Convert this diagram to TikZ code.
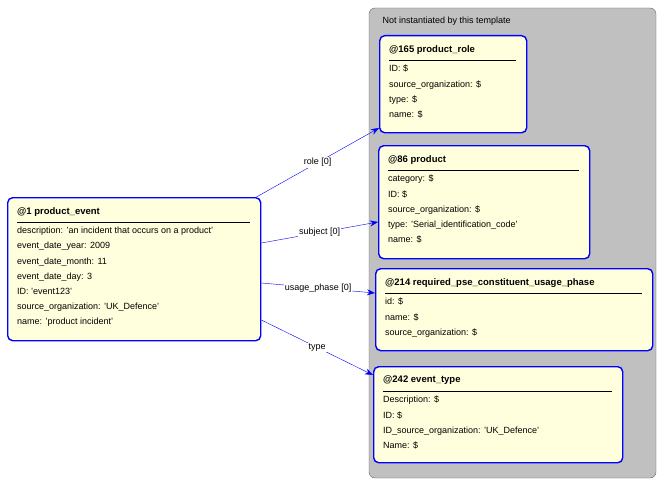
\documentclass[tikz,border=0pt]{standalone}
\usepackage{fontspec}
\setmainfont{Liberation Sans}
\usetikzlibrary{arrows.meta, positioning, calc}

\definecolor{boxfill}{HTML}{FFFFDD}
\definecolor{groupfill}{HTML}{C0C0C0}

\tikzset{
  entity/.style={draw=blue, line width=1.4pt, fill=boxfill, rounded corners=5pt,
    anchor=north west, inner sep=0pt},
  title/.style={anchor=north west, inner sep=0pt, font=\fontsize{9.5}{10}\selectfont\bfseries},
  attr/.style={anchor=north west, inner sep=0pt, align=left,
    font=\fontsize{9}{15.2}\selectfont},
  link/.style={draw=blue, -{Stealth[length=8pt,width=6pt]}},
  linklabel/.style={fill=white, inner sep=1pt, font=\fontsize{9}{10}\selectfont}
}

% box: name, x, y, width, height, title, attribute lines
\newcommand{\entitybox}[7]{
  \node[entity, minimum width=#4, minimum height=#5] (#1) at (#2,#3) {};
  \node[title] (#1t) at (#2+10,#3+10) {#6};
  \draw (#2+10,#3+25) -- ++(#4-20,0);
  \node[attr] (#1a) at (#2+10,#3+30) {#7};
}

\begin{document}
\begin{tikzpicture}[x=1pt,y=-1pt]
  \useasboundingbox (0,0) rectangle (664,487);

  \draw[fill=groupfill, draw=black!60, rounded corners=6pt] (369,8) rectangle (656,478);
  \node[anchor=west, font=\fontsize{9}{10}\selectfont] (group) at (379,21) {Not instantiated by this template};

  \entitybox{event}{7}{197}{253}{143}{@1 product\_event}{description: 'an incident that occurs on a product'\\event\_date\_year: 2009\\event\_date\_month: 11\\event\_date\_day: 3\\ID: 'event123'\\source\_organization: 'UK\_Defence'\\name: 'product incident'}
  \entitybox{role}{379}{35}{147}{97}{@165 product\_role}{ID: \$\\source\_organization: \$\\type: \$\\name: \$}
  \entitybox{product}{378}{145}{211}{113}{@86 product}{category: \$\\ID: \$\\source\_organization: \$\\type: 'Serial\_identification\_code'\\name: \$}
  \entitybox{phase}{375}{268}{277}{82}{@214 required\_pse\_constituent\_usage\_phase}{id: \$\\name: \$\\source\_organization: \$}
  \entitybox{etype}{373}{366}{249}{96}{@242 event\_type}{Description: \$\\ID: \$\\ID\_source\_organization: 'UK\_Defence'\\Name: \$}

  \draw[link] (event.north east) ++(-5,0) coordinate (e1) -- (role.south west |- 0,128) node[linklabel, pos=0.5] {role [0]};
  \draw[link] (event.east |- 0,243) -- (product.west |- 0,222) node[linklabel, pos=0.5] {subject [0]};
  \draw[link] (event.east |- 0,283) -- (phase.west |- 0,293) node[linklabel, pos=0.5] {usage\_phase [0]};
  \draw[link] (event.east |- 0,320) -- (etype.west |- 0,375) node[linklabel, pos=0.5] {type};
\end{tikzpicture}
\end{document}
